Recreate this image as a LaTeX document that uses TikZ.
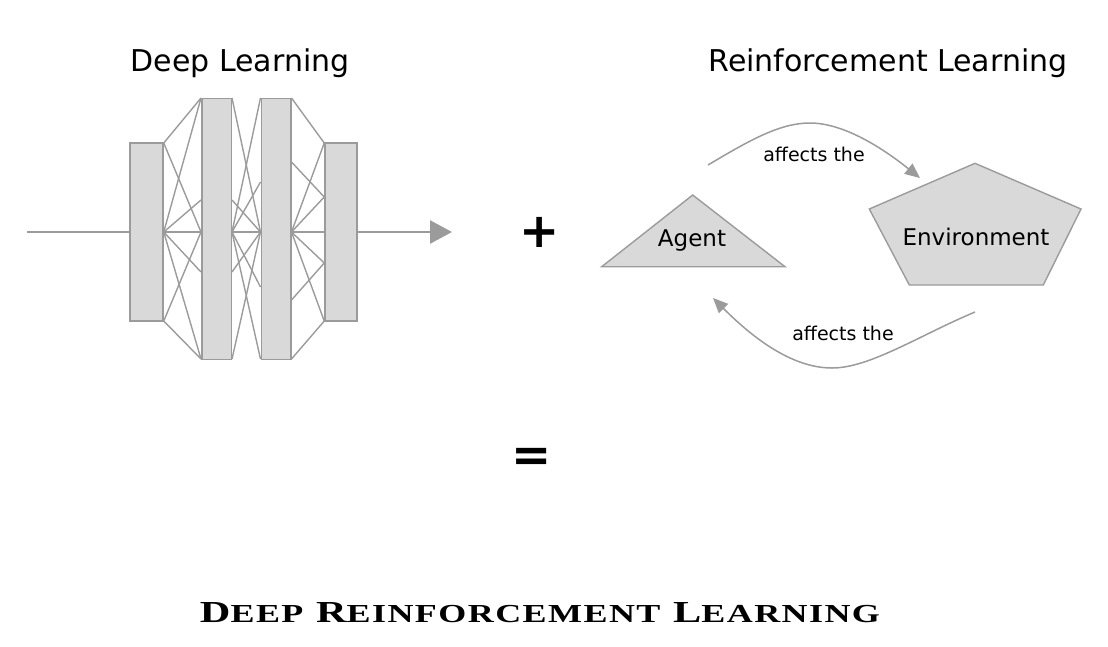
\documentclass[tikz,border=0pt]{standalone}
\usepackage{graphicx}
\usepackage{fontspec}
\setmainfont{DejaVu Sans}
\newfontfamily\titlefont[LetterSpace=4]{Liberation Serif}
\usetikzlibrary{arrows.meta, calc, positioning}
\definecolor{linegray}{HTML}{9B9B9B}
\definecolor{boxgray}{HTML}{D9D9D9}
\newcommand\capword[2]{{\fontsize{30}{30}\selectfont #1}{\fontsize{25.5}{25.5}\selectfont #2}}

\begin{document}
\begin{tikzpicture}[x=1pt, y=-1pt,
	layer/.style = {draw=linegray, fill=boxgray, line width=1.5pt, inner sep=0pt},
	link/.style = {draw=linegray, line width=1.4pt},
	flow/.style = {draw=linegray, line width=2.6pt},
	loop/.style = {draw=linegray, line width=1.5pt, -{Triangle[length=15pt,width=13pt]}},
	shapebox/.style = {draw=linegray, fill=boxgray, line width=1.4pt},
	head/.style = {font=\fontsize{30}{36}\selectfont, anchor=base},
	label/.style = {font=\fontsize{23}{28}\selectfont, anchor=base},
	small/.style = {font=\fontsize{19}{23}\selectfont, anchor=base},
	every node/.style = {align=center}]
\useasboundingbox (0,0) rectangle (1108,646);

\node[head] (dl) at (240,71) {Deep Learning};
\node[head] (rl) at (888,71) {Reinforcement Learning};

\node[layer, minimum width=33pt, minimum height=178pt] (l1) at (146.5,232) {};
\node[layer, minimum width=29.5pt, minimum height=261pt] (l2) at (216.5,228.8) {};
\node[layer, minimum width=29.5pt, minimum height=261pt] (l3) at (276,228.8) {};
\node[layer, minimum width=32pt, minimum height=178pt] (l4) at (341,232) {};

\foreach \ya/\yb in {143/98, 143/232, 232/98, 232/200, 232/272, 232/359, 321/232, 321/359}
	\draw[link] (l1.east |- 0,\ya) -- (l2.west |- 0,\yb);
\foreach \ya/\yb in {98/232, 232/98, 200/232, 232/182, 272/232, 232/287, 232/359, 359/232}
	\draw[link] (l2.east |- 0,\ya) -- (l3.west |- 0,\yb);
\foreach \ya/\yb in {98/143, 162/197, 232/143, 232/197, 232/263, 232/321, 300/263, 359/321}
	\draw[link] (l3.east |- 0,\ya) -- (l4.west |- 0,\yb);

\coordinate (in) at (27,232);
\coordinate (out) at (452,232);
\draw[flow] (in) -- (l1.west);
\draw[flow] (l1.east) -- (l2.west |- l1.east) (l2.east |- l1.east) -- (l3.west |- l1.east)
	(l3.east |- l4.west) -- (l4.west);
\draw[flow, -{Triangle[length=22pt,width=23pt]}] (l4.east) -- (out);

\node[font=\fontsize{48}{48}\selectfont\bfseries] (plus) at (540,232) {+};
\node[font=\fontsize{48}{48}\selectfont\bfseries] (equals) at (532,460) {=};

\draw[shapebox] (692.7,195) -- (785,266.7) -- (601.7,266.7) -- cycle;
\draw[shapebox] (975,163.3) -- (1081,209) -- (1043.3,285) -- (909.3,285) -- (869.3,209) -- cycle;
\node[label] (agent) at (692,246.7) {Agent};
\node[label] (env) at (976,245) {Environment};

\coordinate (agentout) at (708,165);
\coordinate (envin) at (920,178);
\coordinate (envout) at (975,312);
\coordinate (agentin) at (713,298);
\draw[loop] (agentout) .. controls (750,140) and (780,123) .. (810,123)
	.. controls (845,123) and (885,150) .. (envin);
\draw[loop] (envout) .. controls (920,335) and (870,368) .. (832,368)
	.. controls (790,368) and (750,335) .. (agentin);
\node[small] (top) at (814,161.7) {affects the};
\node[small] (bottom) at (843,340) {affects the};

\node[anchor=base] (drl) at (540,622) {\resizebox{680pt}{20pt}{\titlefont\bfseries\fontsize{30}{30}\selectfont
	\capword{D}{EEP}\hspace{0.3em}\capword{R}{EINFORCEMENT}\hspace{0.3em}\capword{L}{EARNING}}};
\end{tikzpicture}
\end{document}
